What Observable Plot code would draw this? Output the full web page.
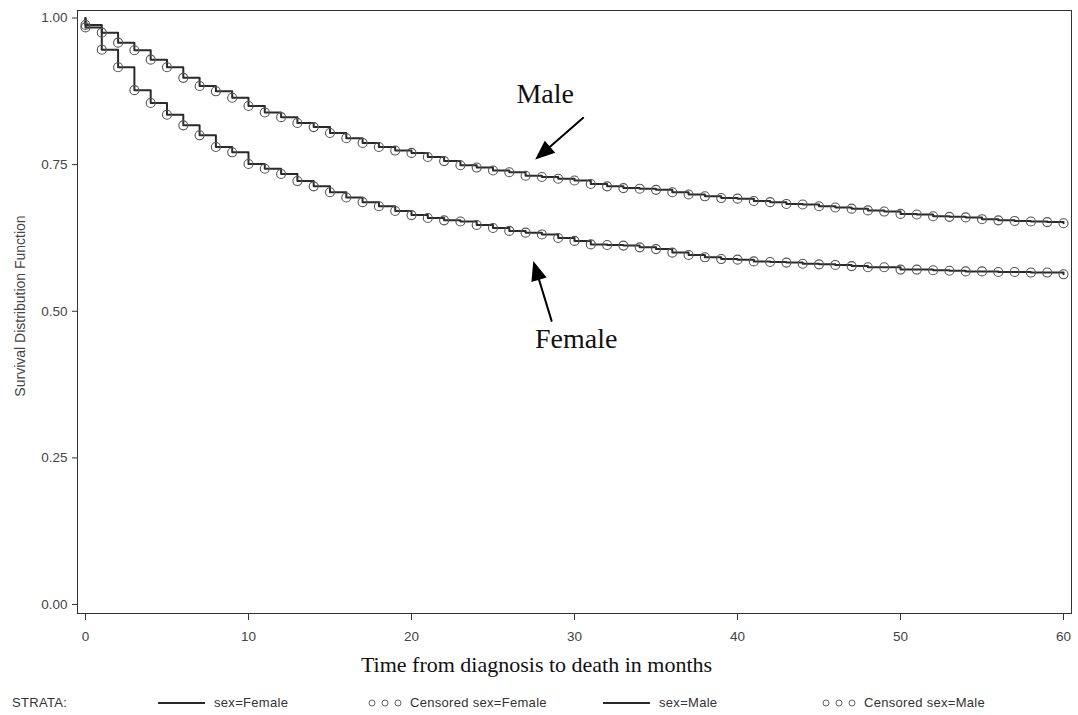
<!DOCTYPE html>
<html>
<head>
<meta charset="utf-8">
<script src="https://cdn.jsdelivr.net/npm/d3@7"></script>
<script src="https://cdn.jsdelivr.net/npm/@observablehq/plot@0.6"></script>
<style>
  body { margin: 0; background: #fff; }
  #legend { position: relative; width: 1078px; height: 27px; font: 13px "Liberation Sans", Arial, sans-serif; color: #333; letter-spacing: 0.3px; }
  #legend .item { position: absolute; top: 7px; line-height: 16px; white-space: nowrap; }
  #legend svg { position: absolute; top: 7px; }
</style>
</head>
<body>
<div id="chart"></div>
<div id="legend"></div>
<script>
// Kaplan–Meier survival estimates by sex, monthly, 0–60 months
const months = [0,1,2,3,4,5,6,7,8,9,10,11,12,13,14,15,16,17,18,19,20,
  21,22,23,24,25,26,27,28,29,30,31,32,33,34,35,36,37,38,39,40,
  41,42,43,44,45,46,47,48,49,50,51,52,53,54,55,56,57,58,59,60];

const femaleSurvival = [0.984,0.946,0.916,0.877,0.855,0.835,0.817,0.800,0.780,0.771,0.751,
  0.743,0.734,0.722,0.713,0.703,0.694,0.686,0.679,0.671,0.664,
  0.659,0.655,0.653,0.647,0.642,0.637,0.634,0.631,0.625,0.620,
  0.614,0.613,0.612,0.609,0.606,0.600,0.596,0.592,0.589,0.588,
  0.585,0.584,0.583,0.581,0.580,0.579,0.577,0.575,0.575,0.571,
  0.571,0.570,0.569,0.568,0.568,0.567,0.567,0.566,0.566,0.563];

const maleSurvival = [0.988,0.975,0.958,0.945,0.929,0.916,0.898,0.884,0.875,0.864,0.850,
  0.839,0.831,0.821,0.814,0.804,0.795,0.787,0.780,0.774,0.770,
  0.763,0.756,0.749,0.745,0.740,0.737,0.731,0.729,0.726,0.723,
  0.717,0.713,0.710,0.709,0.707,0.703,0.699,0.696,0.693,0.692,
  0.688,0.686,0.683,0.682,0.679,0.677,0.675,0.672,0.670,0.666,
  0.665,0.662,0.661,0.660,0.657,0.655,0.654,0.653,0.652,0.650];

const startSurvival = 1;

const xTicks = [0, 10, 20, 30, 40, 50, 60];
const yTicks = [0, 0.25, 0.5, 0.75, 1];

const strata = ["sex=Female", "sex=Male"];

// Call-out labels and arrows (month, survival)
const calloutText = ["Male", "Female"];
const calloutMonth = [28.2, 30.1];
const calloutSurv = [0.870, 0.4535];
const arrowTipMonth = [27.71, 27.52];
const arrowTipSurv = [0.7616, 0.5814];
const arrowAngle = [229, -17];
const arrowLength = [61, 60];

// Step curve rows: the curve starts at S=1 at time 0
function stepRows(values, sex) {
  return [{t: months[0], s: startSurvival, sex}].concat(months.map((t, i) => ({t, s: values[i], sex})));
}
function censorRows(values, sex) {
  return months.map((t, i) => ({t, s: values[i], sex}));
}
const femaleSteps = stepRows(femaleSurvival, strata[0]);
const maleSteps = stepRows(maleSurvival, strata[1]);
const censored = censorRows(femaleSurvival, strata[0]).concat(censorRows(maleSurvival, strata[1]));

const callouts = calloutText.map((text, i) => ({text, t: calloutMonth[i], s: calloutSurv[i]}));
const arrows = arrowTipMonth.map((t, i) => ({t, s: arrowTipSurv[i], angle: arrowAngle[i], len: arrowLength[i]}));

// Filled arrowhead with a straight shaft, drawn pointing up from the origin
const arrowShape = {
  draw(context, l) {
    const h = 16, w = 6.5;
    context.moveTo(0, 0);
    context.lineTo(0, -l + h - 2);
    context.moveTo(0, -l);
    context.lineTo(-w, -l + h);
    context.lineTo(w, -l + h);
    context.closePath();
  }
};

const sans = "'Liberation Sans', Arial, sans-serif";
const serif = "'Liberation Serif', 'Times New Roman', serif";

const chart = Plot.plot({
  width: 1078,
  height: 688,
  marginTop: 10,
  marginBottom: 75,
  marginLeft: 77,
  marginRight: 7,
  style: {fontFamily: sans, fontSize: "13.5px", color: "#222", background: "white", overflow: "visible"},
  x: {domain: [-0.49, 60.49]},
  y: {domain: [-0.0153, 1.0128]},
  marks: [
    Plot.frame({stroke: "#333"}),
    Plot.axisX({ticks: xTicks, tickSize: 7, tickPadding: 11, fontSize: 13.5, fill: "#444", stroke: "#333", label: null}),
    Plot.axisY({ticks: yTicks, tickFormat: d3.format(".2f"), tickSize: 5, tickPadding: 5, fontSize: 13.5, fill: "#444", stroke: "#333", label: null}),
    Plot.text(["Time from diagnosis to death in months"], {
      frameAnchor: "bottom", dx: -38, dy: 51, lineAnchor: "middle",
      fontFamily: serif, fontSize: 22, fill: "#111"
    }),
    Plot.text(["Survival Distribution Function"], {
      frameAnchor: "left", dx: -57, dy: -6, rotate: -90, textAnchor: "middle", lineAnchor: "middle",
      fontFamily: sans, fontSize: 14, fill: "#444"
    }),
    Plot.line(femaleSteps, {x: "t", y: "s", curve: "step-after", stroke: "#2a2a2a", strokeWidth: 2}),
    Plot.line(maleSteps, {x: "t", y: "s", curve: "step-after", stroke: "#2a2a2a", strokeWidth: 2}),
    Plot.dot(censored, {x: "t", y: "s", r: 4.5, stroke: "#555", strokeWidth: 1.1, fill: "none"}),
    Plot.text(callouts, {x: "t", y: "s", text: "text", fontFamily: serif, fontSize: 28, fill: "#111", lineAnchor: "middle"}),
    Plot.vector([arrows[0]], {x: "t", y: "s", rotate: "angle", length: arrows[0].len, anchor: "end",
      shape: arrowShape, stroke: "#000", fill: "#000", strokeWidth: 2, strokeLinejoin: "miter"}),
    Plot.vector([arrows[1]], {x: "t", y: "s", rotate: "angle", length: arrows[1].len, anchor: "end",
      shape: arrowShape, stroke: "#000", fill: "#000", strokeWidth: 2, strokeLinejoin: "miter"})
  ]
});
document.getElementById("chart").appendChild(chart);

// Legend row below the plot
const legend = d3.select("#legend");
legend.append("div").attr("class", "item").style("left", "12px").text("STRATA:");
const entries = [
  {kind: "line", left: 158, label: strata[0]},
  {kind: "circles", left: 368, label: "Censored " + strata[0]},
  {kind: "line", left: 603, label: strata[1]},
  {kind: "circles", left: 822, label: "Censored " + strata[1]}
];
for (const e of entries) {
  if (e.kind === "line") {
    const s = legend.append("svg").attr("width", 48).attr("height", 16).style("left", e.left + "px");
    s.append("line").attr("x1", 0).attr("x2", 47).attr("y1", 8).attr("y2", 8)
      .attr("stroke", "#2a2a2a").attr("stroke-width", 2);
    legend.append("div").attr("class", "item").style("left", (e.left + 56) + "px").text(e.label);
  } else {
    const s = legend.append("svg").attr("width", 40).attr("height", 16).style("left", e.left + "px");
    [4, 17, 30].forEach(cx => s.append("circle").attr("cx", cx).attr("cy", 8).attr("r", 3)
      .attr("fill", "none").attr("stroke", "#666").attr("stroke-width", 1));
    legend.append("div").attr("class", "item").style("left", (e.left + 42) + "px").text(e.label);
  }
}
</script>
</body>
</html>
